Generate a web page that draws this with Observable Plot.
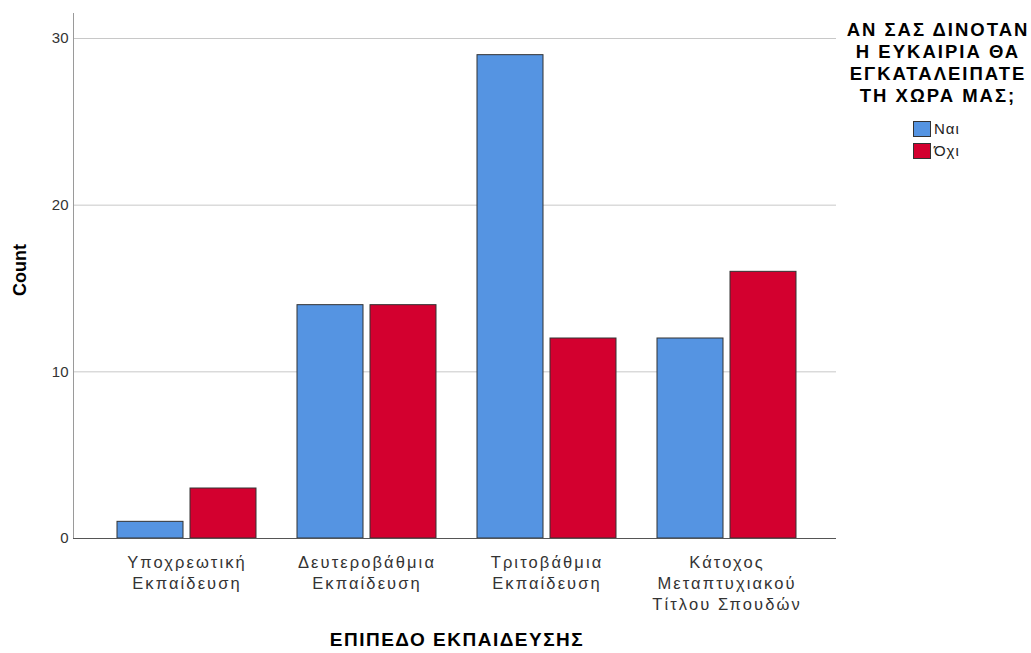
<!DOCTYPE html>
<html>
<head>
<meta charset="utf-8">
<script src="https://cdn.jsdelivr.net/npm/d3@7"></script>
<script src="https://cdn.jsdelivr.net/npm/@observablehq/plot@0.6"></script>
<style>
  html, body { margin: 0; padding: 0; background: #fff; }
  #wrap { position: relative; width: 1031px; height: 653px; font-family: "Liberation Sans", Arial, sans-serif; }
  #wrap svg { font-family: "Liberation Sans", Arial, sans-serif; }
  g[aria-label="x-axis tick label"] text { font-size: 16.5px; letter-spacing: 2.1px; }
  g[aria-label="y-axis tick label"] text { font-size: 15px; }
  #legend { position: absolute; left: 836px; top: 19px; width: 204px; color: #000; }
  #legend .title { font-weight: bold; font-size: 18.5px; line-height: 22px; text-align: center; letter-spacing: 2px; }
  #legend .item { position: absolute; left: 77px; display: flex; align-items: center; font-size: 15px; color: #222; letter-spacing: 1px; }
  #legend .sw { width: 16px; height: 14px; border: 1px solid #333; margin-right: 3px; }
</style>
</head>
<body>
<div id="wrap"></div>
<script>
const categories = ["Υποχρεωτική\nΕκπαίδευση", "Δευτεροβάθμια\nΕκπαίδευση", "Τριτοβάθμια\nΕκπαίδευση", "Κάτοχος\nΜεταπτυχιακού\nΤίτλου Σπουδών"];
const seriesNames = ["Ναι", "Όχι"];
const naiValues = [1, 14, 29, 12];
const oxiValues = [3, 14, 12, 16];
const yTicks = [0, 10, 20, 30];
const colors = ["#5594E2", "#D3002F"];
const xTitle = "ΕΠΙΠΕΔΟ ΕΚΠΑΙΔΕΥΣΗΣ";
const yTitle = "Count";
const legendTitle = "ΑΝ ΣΑΣ ΔΙΝΟΤΑΝ<br>Η ΕΥΚΑΙΡΙΑ ΘΑ<br>ΕΓΚΑΤΑΛΕΙΠΑΤΕ<br>ΤΗ ΧΩΡΑ ΜΑΣ;";

const naiData = categories.map((c, i) => ({cat: c, value: naiValues[i]}));
const oxiData = categories.map((c, i) => ({cat: c, value: oxiValues[i]}));

const chart = Plot.plot({
  width: 1031,
  height: 653,
  marginLeft: 73,
  marginRight: 195,
  marginTop: 13,
  marginBottom: 115,
  style: {fontFamily: "Liberation Sans, Arial, sans-serif", background: "#fff"},
  x: {domain: categories, paddingInner: 0.229, paddingOuter: 0.23, align: 0.52, label: null},
  y: {domain: [0, 31.5], label: null},
  marks: [
    Plot.gridY(yTicks.filter(t => t > 0), {stroke: "#c8c8c8", strokeOpacity: 1}),
    Plot.frame({anchor: "left", stroke: "#9a9a9a"}),
    Plot.axisX({tickSize: 0, tickPadding: 15, lineHeight: 1.27, fill: "#333", label: null}),
    Plot.axisY({ticks: yTicks, tickSize: 0, tickPadding: 5, fill: "#333", label: null}),
    Plot.barY(naiData, {x: "cat", y: "value", fill: colors[0], stroke: "#333", strokeWidth: 1, insetRight: 73}),
    Plot.barY(oxiData, {x: "cat", y: "value", fill: colors[1], stroke: "#333", strokeWidth: 1, insetLeft: 73}),
    Plot.ruleY([0], {stroke: "#555"}),
    Plot.text([yTitle], {frameAnchor: "left", dx: -53, dy: -6, rotate: -90, textAnchor: "middle", fontSize: 18, fontWeight: "bold", fill: "#000"}),
    Plot.text([xTitle], {frameAnchor: "bottom", dx: 2, dy: 101, textAnchor: "middle", lineAnchor: "middle", fontSize: 19, fontWeight: "bold", fill: "#000"})
  ]
});

const wrap = document.getElementById("wrap");
wrap.appendChild(chart);
// letter spacing for x title text
chart.querySelectorAll("text").forEach(t => { if (t.textContent === xTitle) t.style.letterSpacing = "1.5px"; });

const legend = document.createElement("div");
legend.id = "legend";
legend.innerHTML = `<div class="title">${legendTitle}</div>` +
  seriesNames.map((s, i) => `<div class="item" style="top:${101 + i * 22}px"><span class="sw" style="background:${colors[i]}"></span>${s}</div>`).join("");
wrap.appendChild(legend);
</script>
</body>
</html>
